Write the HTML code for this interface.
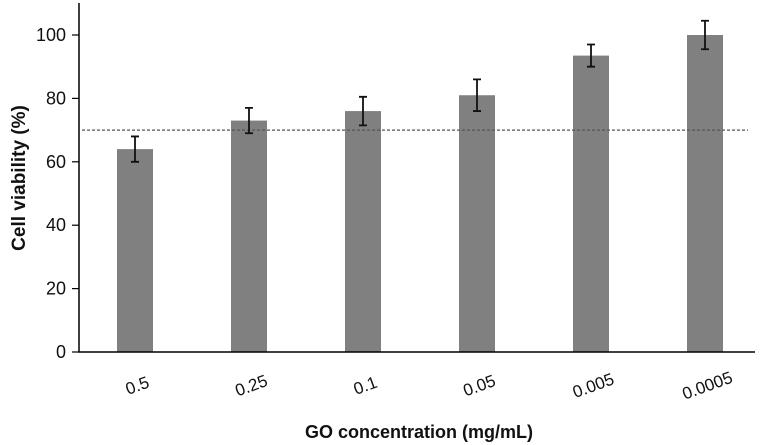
<!DOCTYPE html>
<html><head><meta charset="utf-8"><style>
body{margin:0;background:#fff}
svg{display:block;font-family:"Liberation Sans",Arial,sans-serif}
</style></head><body>
<svg id="chart" width="768" height="445" viewBox="0 0 768 445" xmlns="http://www.w3.org/2000/svg">
<g id="g"></g>
</svg>
<script>
const categories=["0.5","0.25","0.1","0.05","0.005","0.0005"];
const values=[64,73,76,81,93.5,100];
const errors=[4,4,4.5,5,3.5,4.5];
const yTicks=[0,20,40,60,80,100];
const threshold=70;
const NS="http://www.w3.org/2000/svg";
const g=document.getElementById('g');
const x0=79,x1=755,y0=352,pxPerUnit=3.17;
const y=v=>y0-v*pxPerUnit;
const step=114,first=135;
const xc=i=>first+i*step;
function el(t,a,txt){const e=document.createElementNS(NS,t);for(const k in a)e.setAttribute(k,a[k]);if(txt!==undefined)e.textContent=txt;g.appendChild(e);return e;}
categories.forEach((c,i)=>{
 const b=el('rect',{x:xc(i)-18,y:y(values[i]),width:36,height:y0-y(values[i]),fill:'#808080'});
 
 
});
const th=el('line',{x1:82,x2:748,y1:y(threshold),y2:y(threshold),stroke:'#555','stroke-width':1.2,'stroke-dasharray':'3,2'});


categories.forEach((c,i)=>{
 const cx=xc(i),t=y(values[i]+errors[i]),bt=y(values[i]-errors[i]);
 const e=el('path',{d:`M${cx},${t}V${bt}M${cx-4},${t}H${cx+4}M${cx-4},${bt}H${cx+4}`,stroke:'#111','stroke-width':1.8,fill:'none'});
 
 
});
const ax=el('path',{d:`M${x0},3V${y0}H${x1}`,stroke:'#000','stroke-width':1.5,fill:'none'});


yTicks.forEach(v=>{
 el('line',{x1:72,x2:x0,y1:y(v),y2:y(v),stroke:'#000','stroke-width':1.2});
 const t=el('text',{x:66,y:y(v)+6,'text-anchor':'end','font-size':18,fill:'#111'},v);
 
 
});
categories.forEach((c,i)=>{
 const t=el('text',{x:xc(i)+2,y:392,'text-anchor':'middle','font-size':17,fill:'#111',transform:`rotate(-20 ${xc(i)} 385)`},c);
 
 
});
const xt=el('text',{x:419,y:438,'text-anchor':'middle','font-size':18,'font-weight':'bold',fill:'#111'},'GO concentration (mg/mL)');


const yt=el('text',{x:0,y:0,'text-anchor':'middle','font-size':19,'font-weight':'bold',fill:'#111',transform:'translate(25 178) rotate(-90)'},'Cell viability (%)');


</script>
</body></html>
